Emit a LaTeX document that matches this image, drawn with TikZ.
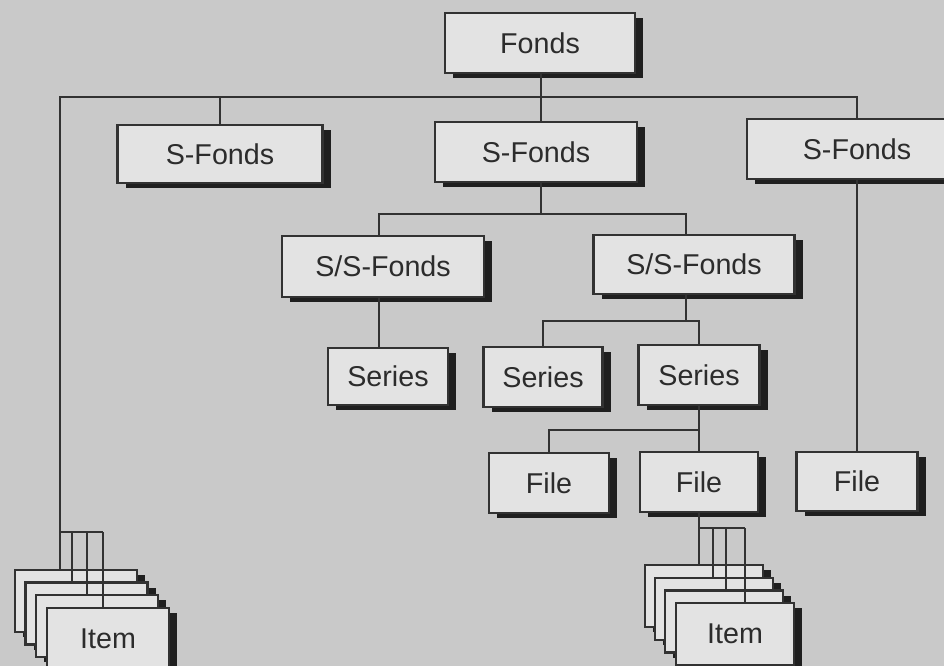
\documentclass[tikz,border=0pt]{standalone}
\usepackage{fontspec}
\setmainfont{Liberation Sans}
\usetikzlibrary{shadows}
\definecolor{bgc}{HTML}{C9C9C9}
\definecolor{boxc}{HTML}{E3E3E3}
\definecolor{lc}{HTML}{323232}
\definecolor{shc}{HTML}{1F1F1F}
\definecolor{txc}{HTML}{2C2C2C}
\tikzset{
  bx/.style 2 args={draw=lc, line width=2.2pt, fill=boxc, inner sep=0pt,
    minimum width=#1, minimum height=#2, text=txc,
    font=\fontsize{21.5}{24}\selectfont,
    general shadow={fill=shc, shadow xshift=6.2pt, shadow yshift=-4pt}},
  ln/.style={draw=lc, line width=1.8pt}
}
\begin{document}
\begin{tikzpicture}[x=0.75pt,y=-0.75pt]
\useasboundingbox (0,0) rectangle (944,666);
\fill[bgc] (0,0) rectangle (944,666);
\clip (0,0) rectangle (944,666);

% column / row helper coordinates
\coordinate (xF) at (541,0);
\coordinate (xL) at (60,0);
\coordinate (yBus) at (0,97);
\coordinate (xS1) at (379,0);
\coordinate (xS2) at (686,0);
\coordinate (y2) at (0,214);
\coordinate (y3) at (0,321);
\coordinate (y4) at (0,430);

% boxes
\node[bx={142.5pt}{45pt}] (fonds) at (540,43) {Fonds};
\node[bx={153.75pt}{43.5pt}] (sf1) at (220,154) {S-Fonds};
\node[bx={151.5pt}{45pt}] (sf2) at (536,152) {S-Fonds};
\node[bx={165pt}{45pt}] (sf3) at (857,149) {S-Fonds};
\node[bx={151.5pt}{45.75pt}] (ss1) at (383,266.5) {S/S-Fonds};
\node[bx={150.75pt}{44.25pt}] (ss2) at (694,264.5) {S/S-Fonds};
\node[bx={90pt}{42.75pt}] (se1) at (388,376.5) {Series};
\node[bx={89.25pt}{45pt}] (se2) at (543,377) {Series};
\node[bx={90.75pt}{45pt}] (se3) at (699,375) {Series};
\node[bx={90pt}{45pt}] (fi1) at (549,483) {File};
\node[bx={88.5pt}{45pt}] (fi2) at (699,482) {File};
\node[bx={90.75pt}{44.25pt}] (fi3) at (857,481.5) {File};

% item stacks (left)
\node[bx={91.5pt}{46.5pt}] (iL1) at (76,601) {};
\node[bx={91.5pt}{46.5pt}] (iL2) at (86.5,613.5) {};
\node[bx={91.5pt}{46.5pt}] (iL3) at (97,626) {};
\node[bx={91.5pt}{46.5pt}] (iL4) at (108,639) {Item};
% item stacks (right)
\node[bx={88.5pt}{46.5pt}] (iR1) at (704,596) {};
\node[bx={88.5pt}{46.5pt}] (iR2) at (714,609) {};
\node[bx={88.5pt}{46.5pt}] (iR3) at (724,621.5) {};
\node[bx={88.5pt}{46.5pt}] (iR4) at (735,634) {Item};

% connectors: top level
\draw[ln] (fonds.south -| xF) -- (sf2.north -| xF);
\draw[ln] (iL1.north -| xL) -- (xL |- yBus) -| (sf3.north);
\draw[ln] (sf1.north) -- (sf1.north |- yBus);
% S-Fonds (middle) to S/S-Fonds
\draw[ln] (sf2.south -| xF) -- (xF |- y2);
\draw[ln] (ss1.north -| xS1) |- (xS2 |- y2) -- (ss2.north -| xS2);
% S/S-Fonds to Series
\draw[ln] (ss1.south -| xS1) -- (se1.north -| xS1);
\draw[ln] (ss2.south -| xS2) -- (xS2 |- y3);
\draw[ln] (se2.north) |- (se3.north |- y3) -- (se3.north);
% Series to File
\draw[ln] (se3.south) -- (se3.south |- y4);
\draw[ln] (fi1.north) |- (fi2.north |- y4) -- (fi2.north);
% S-Fonds right to File
\draw[ln] (sf3.south) -- (fi3.north);
% File to items (right)
\draw[ln] (fi2.south) -- (iR1.north -| fi2.south);
\coordinate (bR0) at (699,528);
\coordinate (bR2) at (713,528);
\coordinate (bR3) at (726,528);
\coordinate (bR4) at (745,528);
\draw[ln] (bR0) -- (bR4);
\draw[ln] (bR2) -- (bR2 |- iR2.north);
\draw[ln] (bR3) -- (bR3 |- iR3.north);
\draw[ln] (bR4) -- (bR4 |- iR4.north);
% items (left) bracket
\coordinate (bL0) at (60,532);
\coordinate (bL2) at (72,532);
\coordinate (bL3) at (87,532);
\coordinate (bL4) at (103,532);
\draw[ln] (bL0) -- (bL4);
\draw[ln] (bL2) -- (bL2 |- iL2.north);
\draw[ln] (bL3) -- (bL3 |- iL3.north);
\draw[ln] (bL4) -- (bL4 |- iL4.north);
\end{tikzpicture}
\end{document}
